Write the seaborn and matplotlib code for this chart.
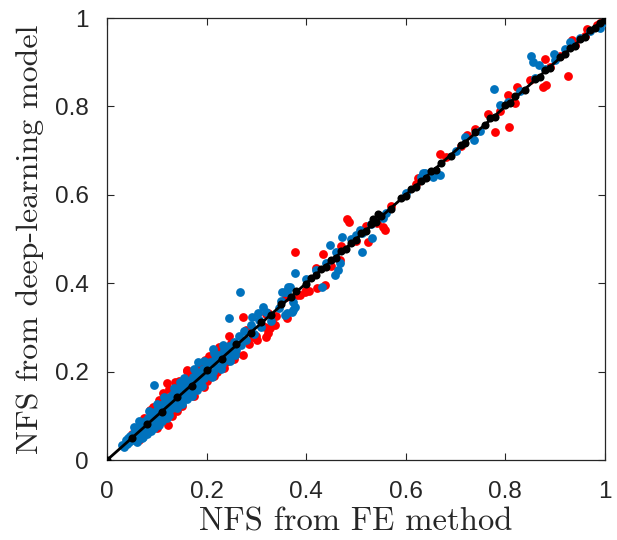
import matplotlib
matplotlib.use("Agg")
import matplotlib.pyplot as plt
import seaborn as sns
import pandas as pd

# (NFS from FE method, NFS from deep-learning model)
red_points = [
    (0.926, 0.869), (0.779, 0.742), (0.807, 0.753), (0.880, 0.907), (0.876, 0.844),
    (0.882, 0.848), (0.669, 0.692), (0.723, 0.735), (0.765, 0.783), (0.823, 0.844),
    (0.805, 0.826), (0.625, 0.638), (0.964, 0.975), (0.984, 0.984), (0.934, 0.950),
    (0.819, 0.808), (0.482, 0.545), (0.486, 0.538), (0.554, 0.527), (0.558, 0.520),
    (0.378, 0.471), (0.434, 0.466), (0.524, 0.493), (0.542, 0.536), (0.468, 0.452),
    (0.422, 0.389), (0.438, 0.396), (0.388, 0.373), (0.398, 0.380), (0.406, 0.382),
    (0.273, 0.324), (0.323, 0.333), (0.317, 0.301), (0.327, 0.299), (0.297, 0.278),
    (0.301, 0.271), (0.197, 0.226), (0.211, 0.192), (0.203, 0.188), (0.273, 0.238),
    (0.161, 0.204), (0.382, 0.373), (0.361, 0.321), (0.120, 0.174), (0.137, 0.176),
    (0.161, 0.201), (0.112, 0.152), (0.090, 0.075), (0.082, 0.063), (0.331, 0.312),
    (0.337, 0.305), (0.323, 0.287), (0.092, 0.120), (0.086, 0.113), (0.122, 0.079),
    (0.294, 0.278), (0.320, 0.278),
    (0.040, 0.045), (0.050, 0.058), (0.060, 0.050), (0.070, 0.082), (0.080, 0.070),
    (0.090, 0.100), (0.100, 0.088), (0.110, 0.125), (0.120, 0.108), (0.130, 0.145),
    (0.140, 0.125), (0.150, 0.165), (0.160, 0.145), (0.170, 0.185), (0.180, 0.162),
    (0.190, 0.205), (0.200, 0.180), (0.210, 0.228), (0.220, 0.200), (0.230, 0.245),
    (0.240, 0.222), (0.250, 0.265), (0.260, 0.240), (0.280, 0.295), (0.300, 0.280),
    (0.320, 0.330), (0.340, 0.325), (0.360, 0.370), (0.400, 0.385), (0.420, 0.435),
    (0.450, 0.440), (0.470, 0.485), (0.500, 0.495), (0.520, 0.530), (0.570, 0.575),
    (0.620, 0.625), (0.680, 0.685), (0.710, 0.710), (0.740, 0.750), (0.790, 0.790),
    (0.850, 0.860), (0.890, 0.890), (0.910, 0.915), (0.940, 0.940), (0.960, 0.960),
    (0.990, 0.990),
    (0.105, 0.135), (0.125, 0.160), (0.145, 0.178), (0.165, 0.195), (0.185, 0.215),
    (0.205, 0.235), (0.225, 0.255), (0.245, 0.280), (0.100, 0.072), (0.130, 0.100),
    (0.150, 0.122), (0.175, 0.145), (0.195, 0.165), (0.215, 0.190), (0.235, 0.208),
    (0.255, 0.228), (0.065, 0.045), (0.075, 0.095), (0.140, 0.112), (0.285, 0.262),
]

blue_points = [
    (0.777, 0.839), (0.851, 0.914), (0.855, 0.900), (0.867, 0.894), (0.898, 0.918),
    (0.737, 0.724), (0.639, 0.649), (0.655, 0.640), (0.669, 0.645), (0.990, 0.977),
    (1.000, 0.991), (0.930, 0.946), (0.789, 0.803), (0.805, 0.810), (0.635, 0.649),
    (0.448, 0.486), (0.472, 0.505), (0.508, 0.520), (0.512, 0.514), (0.512, 0.471),
    (0.532, 0.502), (0.554, 0.548), (0.468, 0.446), (0.464, 0.430), (0.458, 0.419),
    (0.378, 0.423), (0.361, 0.380), (0.367, 0.391), (0.432, 0.391), (0.378, 0.346),
    (0.267, 0.380), (0.245, 0.321), (0.291, 0.324), (0.303, 0.333), (0.213, 0.251),
    (0.183, 0.222), (0.257, 0.238), (0.363, 0.391), (0.357, 0.380), (0.373, 0.339),
    (0.361, 0.333), (0.094, 0.170), (0.147, 0.176), (0.357, 0.328), (0.371, 0.335),
    (0.313, 0.346), (0.233, 0.260), (0.207, 0.222), (0.352, 0.380), (0.374, 0.357),
    (0.030, 0.035), (0.035, 0.030), (0.038, 0.045), (0.040, 0.036), (0.042, 0.050),
    (0.045, 0.040), (0.047, 0.055), (0.050, 0.045), (0.052, 0.060), (0.055, 0.048),
    (0.057, 0.065), (0.060, 0.052), (0.062, 0.070), (0.065, 0.058), (0.067, 0.075),
    (0.070, 0.062), (0.072, 0.080), (0.075, 0.066), (0.077, 0.088), (0.080, 0.070),
    (0.082, 0.095), (0.085, 0.075), (0.088, 0.100), (0.090, 0.080), (0.092, 0.105),
    (0.095, 0.085), (0.098, 0.112), (0.100, 0.090), (0.102, 0.118), (0.105, 0.095),
    (0.108, 0.122), (0.110, 0.100), (0.112, 0.128), (0.115, 0.105), (0.118, 0.135),
    (0.120, 0.108), (0.122, 0.140), (0.125, 0.115), (0.128, 0.145), (0.130, 0.118),
    (0.133, 0.150), (0.135, 0.125), (0.138, 0.155), (0.140, 0.130), (0.143, 0.160),
    (0.145, 0.135), (0.148, 0.165), (0.150, 0.140), (0.153, 0.168), (0.155, 0.145),
    (0.158, 0.172), (0.160, 0.150), (0.163, 0.178), (0.165, 0.155), (0.168, 0.182),
    (0.170, 0.160), (0.173, 0.188), (0.175, 0.165), (0.178, 0.192), (0.180, 0.170),
    (0.185, 0.198), (0.188, 0.178), (0.192, 0.205), (0.195, 0.185), (0.200, 0.212),
    (0.203, 0.192), (0.208, 0.220), (0.212, 0.200), (0.217, 0.228), (0.220, 0.210),
    (0.225, 0.238), (0.230, 0.218), (0.235, 0.248), (0.240, 0.228), (0.245, 0.258),
    (0.250, 0.240), (0.255, 0.268), (0.260, 0.250), (0.265, 0.280), (0.270, 0.260),
    (0.275, 0.292), (0.280, 0.272), (0.290, 0.305), (0.295, 0.285), (0.305, 0.318),
    (0.310, 0.300), (0.320, 0.335), (0.330, 0.315), (0.345, 0.345), (0.350, 0.360),
    (0.060, 0.040), (0.070, 0.050), (0.080, 0.060), (0.095, 0.072), (0.110, 0.088),
    (0.125, 0.102), (0.140, 0.118), (0.160, 0.138), (0.180, 0.158),
    (0.055, 0.075), (0.065, 0.088), (0.085, 0.110), (0.100, 0.128), (0.115, 0.142),
    (0.135, 0.162), (0.155, 0.185), (0.175, 0.205), (0.195, 0.225), (0.215, 0.242),
    (0.072, 0.052), (0.088, 0.066), (0.105, 0.080), (0.120, 0.095), (0.150, 0.128),
    (0.170, 0.145), (0.190, 0.168), (0.210, 0.188), (0.228, 0.205), (0.248, 0.225),
    (0.400, 0.410), (0.420, 0.430), (0.440, 0.445), (0.460, 0.470), (0.490, 0.500),
    (0.500, 0.510), (0.530, 0.535), (0.560, 0.560), (0.600, 0.605), (0.630, 0.640),
    (0.700, 0.700), (0.720, 0.730), (0.750, 0.745), (0.830, 0.835), (0.860, 0.865),
    (0.880, 0.885), (0.900, 0.905), (0.920, 0.930), (0.950, 0.955), (0.970, 0.970),
]

black_points = [
    (0.000, 0.000), (0.050, 0.050), (0.080, 0.082), (0.110, 0.108), (0.140, 0.142),
    (0.170, 0.168), (0.200, 0.203), (0.230, 0.228), (0.260, 0.262), (0.290, 0.288),
    (0.310, 0.313), (0.330, 0.328), (0.350, 0.352), (0.370, 0.368), (0.380, 0.383),
    (0.400, 0.398), (0.410, 0.413), (0.420, 0.418), (0.430, 0.433), (0.440, 0.437),
    (0.450, 0.452), (0.460, 0.458), (0.470, 0.473), (0.480, 0.478), (0.490, 0.492),
    (0.500, 0.497), (0.510, 0.513), (0.520, 0.518), (0.530, 0.534), (0.540, 0.538),
    (0.550, 0.553), (0.545, 0.556), (0.535, 0.545), (0.570, 0.568), (0.590, 0.592),
    (0.600, 0.598), (0.610, 0.613), (0.620, 0.618), (0.630, 0.632), (0.640, 0.638),
    (0.650, 0.653), (0.660, 0.657), (0.670, 0.673), (0.690, 0.688), (0.710, 0.712),
    (0.720, 0.717), (0.740, 0.742), (0.760, 0.757), (0.770, 0.773), (0.780, 0.777),
    (0.800, 0.803), (0.810, 0.808), (0.820, 0.823), (0.840, 0.838), (0.860, 0.863),
    (0.870, 0.867), (0.880, 0.883), (0.890, 0.887), (0.910, 0.913), (0.920, 0.918),
    (0.930, 0.933), (0.940, 0.937), (0.950, 0.953), (0.960, 0.957), (0.970, 0.973),
    (0.980, 0.978), (0.990, 0.990), (1.000, 0.995),
]

line_x = [0.0, 1.0]
line_y = [0.0, 1.0]

tick_values = [0, 0.2, 0.4, 0.6, 0.8, 1]
tick_labels = ["0", "0.2", "0.4", "0.6", "0.8", "1"]

sns.set_theme(style="white")
plt.rcParams["font.family"] = ["Liberation Sans", "DejaVu Sans"]

fig = plt.figure(figsize=(6.17, 5.40), dpi=100)
ax = fig.add_axes([0.1734, 0.148, 0.807, 0.8185])

def to_df(pts):
    return pd.DataFrame(pts, columns=["fe", "dl"])

sns.scatterplot(data=to_df(red_points), x="fe", y="dl", color="#FF0000",
                s=40, linewidth=0, ax=ax, zorder=2)
sns.scatterplot(data=to_df(blue_points), x="fe", y="dl", color="#0072BD",
                s=40, linewidth=0, ax=ax, zorder=3)
sns.lineplot(x=line_x, y=line_y, color="black", linewidth=2.0, ax=ax, zorder=4)
sns.scatterplot(data=to_df(black_points), x="fe", y="dl", color="black",
                s=34, linewidth=0, ax=ax, zorder=5)

ax.set_xlim(0, 1)
ax.set_ylim(0, 1)
ax.set_xticks(tick_values)
ax.set_xticklabels(tick_labels)
ax.set_yticks(tick_values)
ax.set_yticklabels(tick_labels)
ax.tick_params(axis="both", direction="in", length=5, width=0.8, labelsize=17.5,
               colors="#262626", top=True, right=True, bottom=True, left=True,
               labelcolor="#262626")
ax.tick_params(axis="x", pad=15)
ax.tick_params(axis="y", pad=13)
for sp in ax.spines.values():
    sp.set_color("#262626")
    sp.set_linewidth(0.9)

label_family = ["cmr10", "Liberation Serif", "DejaVu Serif"]
ax.set_xlabel("NFS from FE method", family=label_family,
              fontsize=23.5, color="#262626", labelpad=3)
ax.set_ylabel("NFS from deep-learning model", family=label_family,
              fontsize=23, color="#262626", labelpad=8)

fig.savefig("out.png", dpi=100)
